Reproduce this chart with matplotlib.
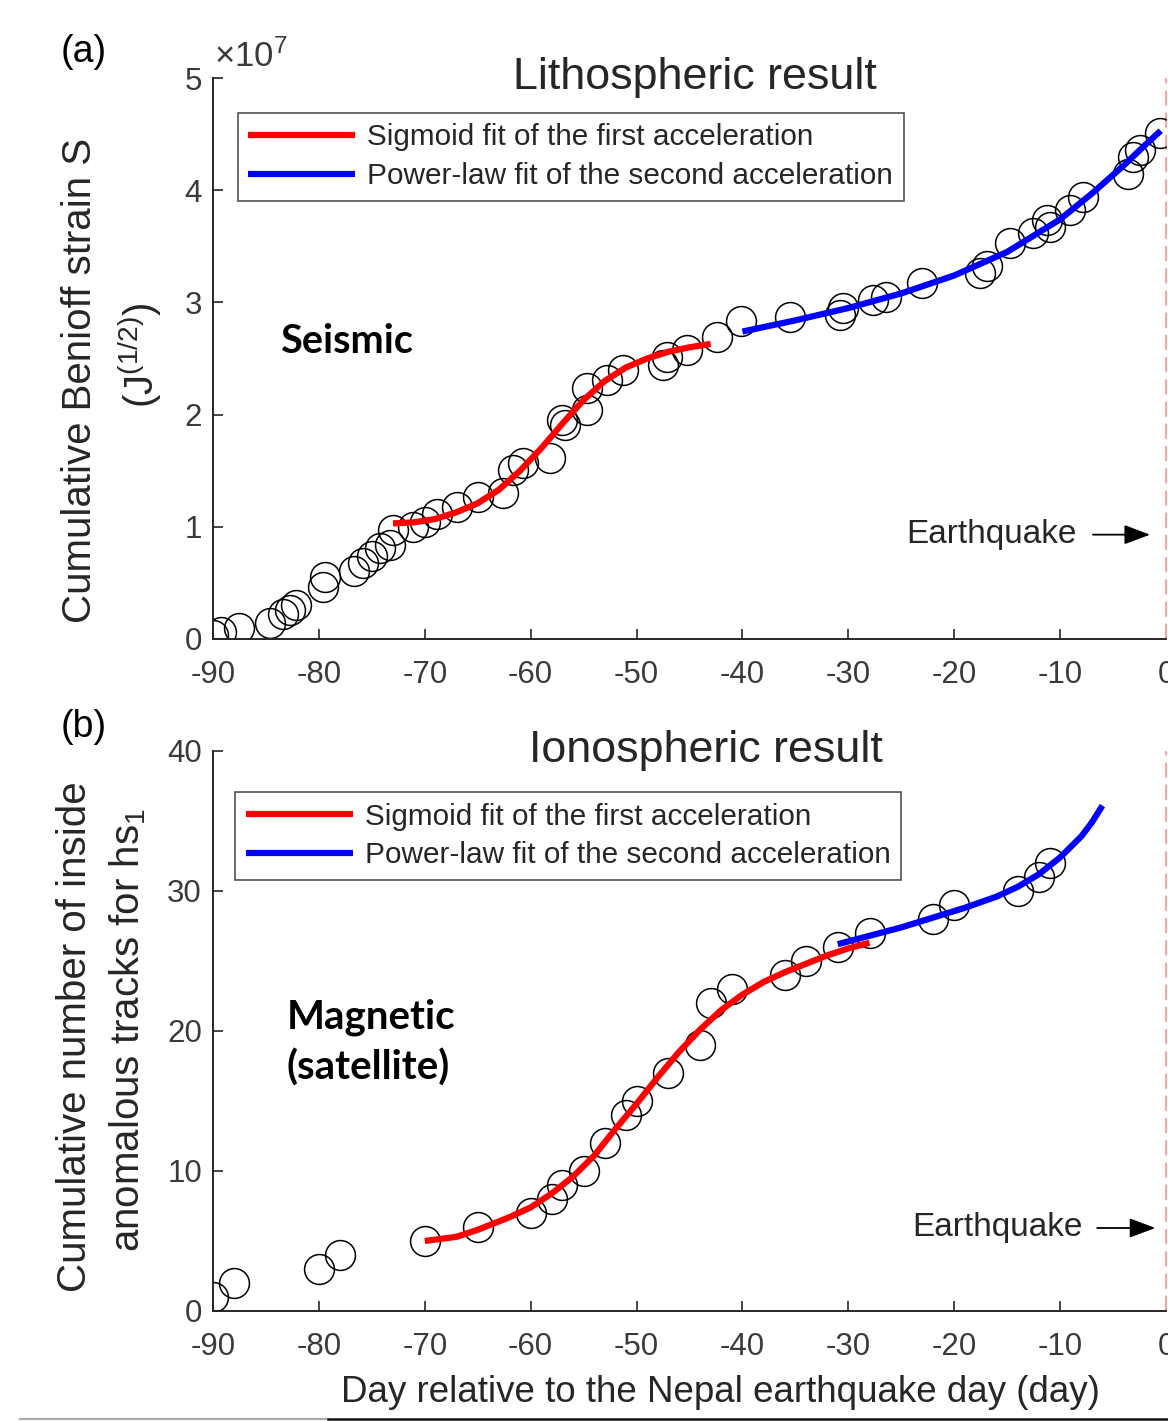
import matplotlib
matplotlib.use("Agg")
import matplotlib.pyplot as plt
from matplotlib.lines import Line2D

plt.rcParams['font.family'] = ['Liberation Sans', 'DejaVu Sans']
plt.rcParams['mathtext.fontset'] = 'custom'
plt.rcParams['mathtext.rm'] = 'Liberation Sans'
plt.rcParams['mathtext.it'] = 'Liberation Sans:italic'
plt.rcParams['axes.unicode_minus'] = False
plt.rcParams['lines.scale_dashes'] = False

# ---------------- data: panel (a) seismic (units of 1e7 J^(1/2)) ----------------
seis_day = [-90.0, -89.2, -87.5, -84.6, -83.4, -82.7, -82.2, -79.6, -79.4, -76.7,
            -75.8, -75.0, -74.2, -73.3, -73.0, -71.1, -70.0, -68.8, -67.0, -65.0,
            -62.6, -61.7, -60.7, -58.2, -57.0, -56.8, -54.7, -54.7, -52.8, -51.3,
            -47.5, -47.1, -45.2, -42.4, -40.1, -35.5, -30.8, -30.5, -27.7, -26.4,
            -23.0, -17.6, -16.9, -14.7, -12.6, -11.2, -11.0, -9.1, -7.8, -3.6,
            -3.1, -2.5, -0.6]
seis_S = [0.04, 0.06, 0.10, 0.14, 0.22, 0.26, 0.30, 0.46, 0.55, 0.61,
          0.68, 0.74, 0.81, 0.84, 0.97, 1.00, 1.04, 1.11, 1.18, 1.27,
          1.30, 1.51, 1.57, 1.61, 1.95, 1.91, 2.04, 2.24, 2.31, 2.40,
          2.44, 2.51, 2.58, 2.69, 2.83, 2.87, 2.89, 2.95, 3.02, 3.05,
          3.17, 3.26, 3.32, 3.53, 3.62, 3.73, 3.67, 3.82, 3.94, 4.14,
          4.30, 4.36, 4.51]
seis_sig_day = [-73, -71, -69, -67, -65, -63, -61, -59, -57, -55, -53, -51, -49, -47, -45, -43]
seis_sig_S = [1.03, 1.04, 1.07, 1.13, 1.21, 1.33, 1.50, 1.70, 1.92, 2.13, 2.30, 2.42, 2.50, 2.56, 2.60, 2.63]
seis_pow_day = [-40, -35, -30, -25, -20, -15, -10, -7, -4, -2, -0.5]
seis_pow_S = [2.74, 2.84, 2.95, 3.08, 3.24, 3.45, 3.74, 3.97, 4.22, 4.40, 4.53]

# ---------------- data: panel (b) magnetic ----------------
mag_day = [-90, -88, -80, -78, -70, -65, -60, -58, -57, -55, -53, -51, -50, -47,
           -44, -43, -41, -36, -34, -31, -28, -22, -20, -14, -12, -11]
mag_n = [1, 2, 3, 4, 5, 6, 7, 8, 9, 10, 12, 14, 15, 17,
         19, 22, 23, 24, 25, 26, 27, 28, 29, 30, 31, 32]
mag_sig_day = [-70, -67, -65, -62, -60, -58, -56, -54, -52, -50, -48, -46, -44, -42,
               -40, -38, -36, -34, -32, -30, -28]
mag_sig_n = [5.0, 5.3, 5.8, 6.7, 7.4, 8.4, 9.6, 11.1, 13.0, 14.8, 16.7, 18.5, 20.1, 21.5,
             22.6, 23.5, 24.2, 24.8, 25.4, 25.9, 26.3]
mag_pow_day = [-31, -28, -25, -22, -19, -16, -14, -12, -10, -8, -7, -6]
mag_pow_n = [26.2, 26.8, 27.4, 28.1, 28.8, 29.6, 30.3, 31.2, 32.4, 33.9, 34.9, 36.1]

x_ticks = [-90, -80, -70, -60, -50, -40, -30, -20, -10, 0]
seis_yticks = [0, 1, 2, 3, 4, 5]
mag_yticks = [0, 10, 20, 30, 40]
leg_labels = ['Sigmoid fit of the first acceleration', 'Power-law fit of the second acceleration']

W, H = 1168, 1421
fig = plt.figure(figsize=(W / 100, H / 100), dpi=100)
TXT = '#262626'
TICK = '#3a3a3a'

def px_ax(l, r, t, b):
    return [l / W, 1 - b / H, (r - l) / W, (b - t) / H]

ax1 = fig.add_axes(px_ax(213, 1166, 78, 639))
ax2 = fig.add_axes(px_ax(213, 1166, 751, 1311))

def style(ax, yticks, ylim):
    ax.set_xlim(-90, 0)
    ax.set_ylim(*ylim)
    ax.set_xticks(x_ticks)
    ax.set_yticks(yticks)
    for s in ['top', 'right']:
        ax.spines[s].set_visible(False)
    for s in ['left', 'bottom']:
        ax.spines[s].set_color(TXT)
        ax.spines[s].set_linewidth(1.4)
    ax.tick_params(direction='in', length=7, width=1.2, colors=TXT, labelsize=22.5,
                   labelcolor=TICK)
    ax.tick_params(axis='x', pad=15)
    ax.tick_params(axis='y', pad=8)
    ax.axvline(0, color='#f7a3a3', lw=1.4, ls=(0, (11, 5)), clip_on=False)

style(ax1, seis_yticks, (0, 5))
style(ax2, mag_yticks, (0, 40))

mk = dict(marker='o', ls='none', ms=21.5, mfc='none', mec='black', mew=1.1)
arrow_kw = dict(arrowstyle='-|>,head_length=1.6,head_width=0.6', color='black', lw=1.3,
                shrinkA=0, shrinkB=0)
leg_kw = dict(loc='upper left', fontsize=21.4, frameon=True, fancybox=False, edgecolor=TXT,
              handlelength=3.6, handletextpad=0.4, labelspacing=0.36, borderpad=0.36,
              borderaxespad=0)

# panel a
ax1.plot(seis_day, seis_S, **mk, zorder=2)
l1, = ax1.plot(seis_sig_day, seis_sig_S, color='#ff0000', lw=4.5, zorder=3, solid_capstyle='butt')
l2, = ax1.plot(seis_pow_day, seis_pow_S, color='#0000ff', lw=4.5, zorder=3, solid_capstyle='butt')
leg = ax1.legend([l1, l2], leg_labels, bbox_to_anchor=(0.026, 0.938), **leg_kw)
leg.get_frame().set_linewidth(1.2)
for t in leg.get_texts():
    t.set_color(TXT)
ax1.text(0.506, 1.0, 'Lithospheric result', transform=ax1.transAxes, ha='center', va='center',
         fontsize=32.3, color=TXT)
ax1.text(-24.5, 0.93, 'Earthquake', ha='left', va='center', fontsize=24, color=TXT)
ax1.annotate('', xy=(-1.5, 0.93), xytext=(-6.9, 0.93), arrowprops=arrow_kw)
ax1.text(0.07, 0.53, 'Seismic', transform=ax1.transAxes, fontsize=28.5, fontweight='bold',
         family=['Lato', 'DejaVu Sans'], color='black', ha='left', va='center')

# panel b
ax2.plot(mag_day, mag_n, **mk, zorder=2)
m1, = ax2.plot(mag_sig_day, mag_sig_n, color='#ff0000', lw=4.5, zorder=3, solid_capstyle='butt')
m2, = ax2.plot(mag_pow_day, mag_pow_n, color='#0000ff', lw=4.5, zorder=3, solid_capstyle='butt')
leg2 = ax2.legend([m1, m2], leg_labels, bbox_to_anchor=(0.023, 0.927), **leg_kw)
leg2.get_frame().set_linewidth(1.2)
for t in leg2.get_texts():
    t.set_color(TXT)
ax2.text(0.517, 1.0, 'Ionospheric result', transform=ax2.transAxes, ha='center', va='center',
         fontsize=32.3, color=TXT)
ax2.text(-24.0, 5.93, 'Earthquake', ha='left', va='center', fontsize=24, color=TXT)
ax2.annotate('', xy=(-1.0, 5.93), xytext=(-6.5, 5.93), arrowprops=arrow_kw)
ax2.text(0.077, 0.48, 'Magnetic\n(satellite)', transform=ax2.transAxes, fontsize=29,
         fontweight='bold', family=['Lato', 'DejaVu Sans'], color='black', ha='left', va='center',
         linespacing=1.4)
xl = ax2.set_xlabel('Day relative to the Nepal earthquake day (day)', fontsize=26.5, color=TXT)
ax2.xaxis.set_label_coords(0.532, -0.146)
xl.set_verticalalignment('center')

# figure-level texts
def ftext(x, y, s, **kw):
    fig.text(x / W, 1 - y / H, s, **kw)

ftext(84, 52, '(a)', fontsize=27, color='black', ha='center', va='center')
ftext(84, 727, '(b)', fontsize=27, color='black', ha='center', va='center')
ftext(214, 57, r'$\times10^{7}$', fontsize=25, color=TICK, ha='left', va='center')
ftext(80, 380, 'Cumulative Benioff strain S', fontsize=29, color=TXT, rotation=90,
      ha='center', va='center')
ftext(140, 355, r'($\mathrm{J}^{(1/2)}$)', fontsize=29, color=TXT, rotation=90,
      ha='center', va='center')
ftext(75, 1037, 'Cumulative number of inside', fontsize=29, color=TXT, rotation=90,
      ha='center', va='center')
ftext(128, 1030, r'anomalous tracks for hs$_1$', fontsize=29, color=TXT, rotation=90,
      ha='center', va='center')

# thin border strip at the very bottom of the picture
fig.add_artist(Line2D([20 / W, 328 / W], [2.5 / H, 2.5 / H], color='#aaaaaa', lw=1.6))
fig.add_artist(Line2D([328 / W, 1.0], [2.5 / H, 2.5 / H], color='#111111', lw=1.8))

fig.savefig('out.png', dpi=100)
